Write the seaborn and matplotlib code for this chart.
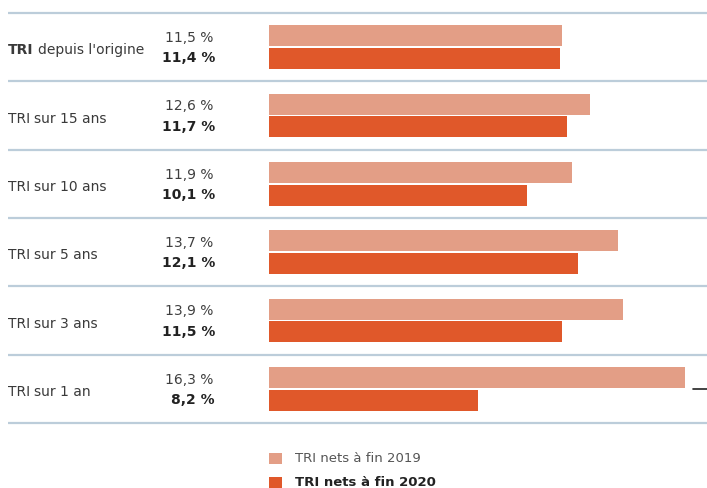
import matplotlib
matplotlib.use("Agg")
import matplotlib.pyplot as plt
from matplotlib.patches import Rectangle
from matplotlib.transforms import blended_transform_factory
import seaborn as sns
import pandas as pd

labels = ["TRI depuis l'origine", "TRI sur 15 ans", "TRI sur 10 ans",
          "TRI sur 5 ans", "TRI sur 3 ans", "TRI sur 1 an"]
tri_2019 = [11.5, 12.6, 11.9, 13.7, 13.9, 16.3]
tri_2020 = [11.4, 11.7, 10.1, 12.1, 11.5, 8.2]
series = ["TRI nets à fin 2019", "TRI nets à fin 2020"]
colors = ["#E39E86", "#E0582A"]

W, H = 707, 488
sns.set_theme(style="white")
plt.rcParams["font.family"] = ["DejaVu Sans"]

fig = plt.figure(figsize=(W / 100, H / 100), dpi=100)
# axes: x=269..707 px, y=13..423 px
ax = fig.add_axes([269 / W, 1 - 423 / H, (W - 269) / W, 410 / H])

df = pd.DataFrame({
    "label": labels * 2,
    "value": tri_2019 + tri_2020,
    "year": [series[0]] * len(labels) + [series[1]] * len(labels),
})
sns.barplot(data=df, y="label", x="value", hue="year", orient="h",
            palette=colors, saturation=1, width=0.66, gap=0.06, linewidth=0,
            legend=False, ax=ax)
ax.set_xlim(0, (W - 269) / 25.5)
ax.set_ylim(len(labels) - 0.5, -0.5)
ax.set_axis_off()

# separator lines spanning the whole width
line_tr = ax.get_yaxis_transform()
x_left = (8 - 269) / (W - 269)
for k in range(len(labels) + 1):
    ax.plot([x_left, 1], [k - 0.5, k - 0.5], color="#BCCDDA", lw=1.6,
            transform=line_tr, clip_on=False, solid_capstyle="butt")

txt_tr = blended_transform_factory(fig.transFigure, ax.transData)
text_color = "#3A3A3A"
fs = 10
for i, (lab, v19, v20) in enumerate(zip(labels, tri_2019, tri_2020)):
    t = ax.text(8 / W, i + 0.045, "TRI", transform=txt_tr, fontsize=fs,
                color=text_color, va="center", ha="left",
                fontweight="bold" if i == 0 else "normal")
    ax.annotate(lab[4:], xy=(1, 0), xycoords=t, xytext=(3, 0),
                textcoords="offset points", va="bottom", ha="left",
                fontsize=fs, color=text_color)
    v19s = f"{v19:.1f}".replace(".", ",") + " %"
    v20s = f"{v20:.1f}".replace(".", ",") + " %"
    ax.text(213 / W, i - 0.135, v19s, transform=txt_tr, fontsize=fs,
            color="#3F3F3F", va="center", ha="right")
    ax.text(215 / W, i + 0.165, v20s, transform=txt_tr, fontsize=fs,
            color="#222222", va="center", ha="right", fontweight="bold")

# small dash at the end of the last row
fig.add_artist(plt.Line2D([693 / W, 707 / W], [1 - 389 / H, 1 - 389 / H],
                          color="#222222", lw=1.2, transform=fig.transFigure))

# legend
for j, (name, c) in enumerate(zip(series, colors)):
    y0 = 453 + j * 24
    fig.add_artist(Rectangle((269 / W, 1 - (y0 + 11) / H), 13 / W, 11 / H,
                             transform=fig.transFigure, color=c, lw=0))
    fig.text(295 / W, 1 - (y0 + 5.5) / H, name, fontsize=9.5,
             color="#555555" if j == 0 else "#222222", va="center", ha="left",
             fontweight="bold" if j == 1 else "normal")

fig.savefig("out.png", dpi=100)
